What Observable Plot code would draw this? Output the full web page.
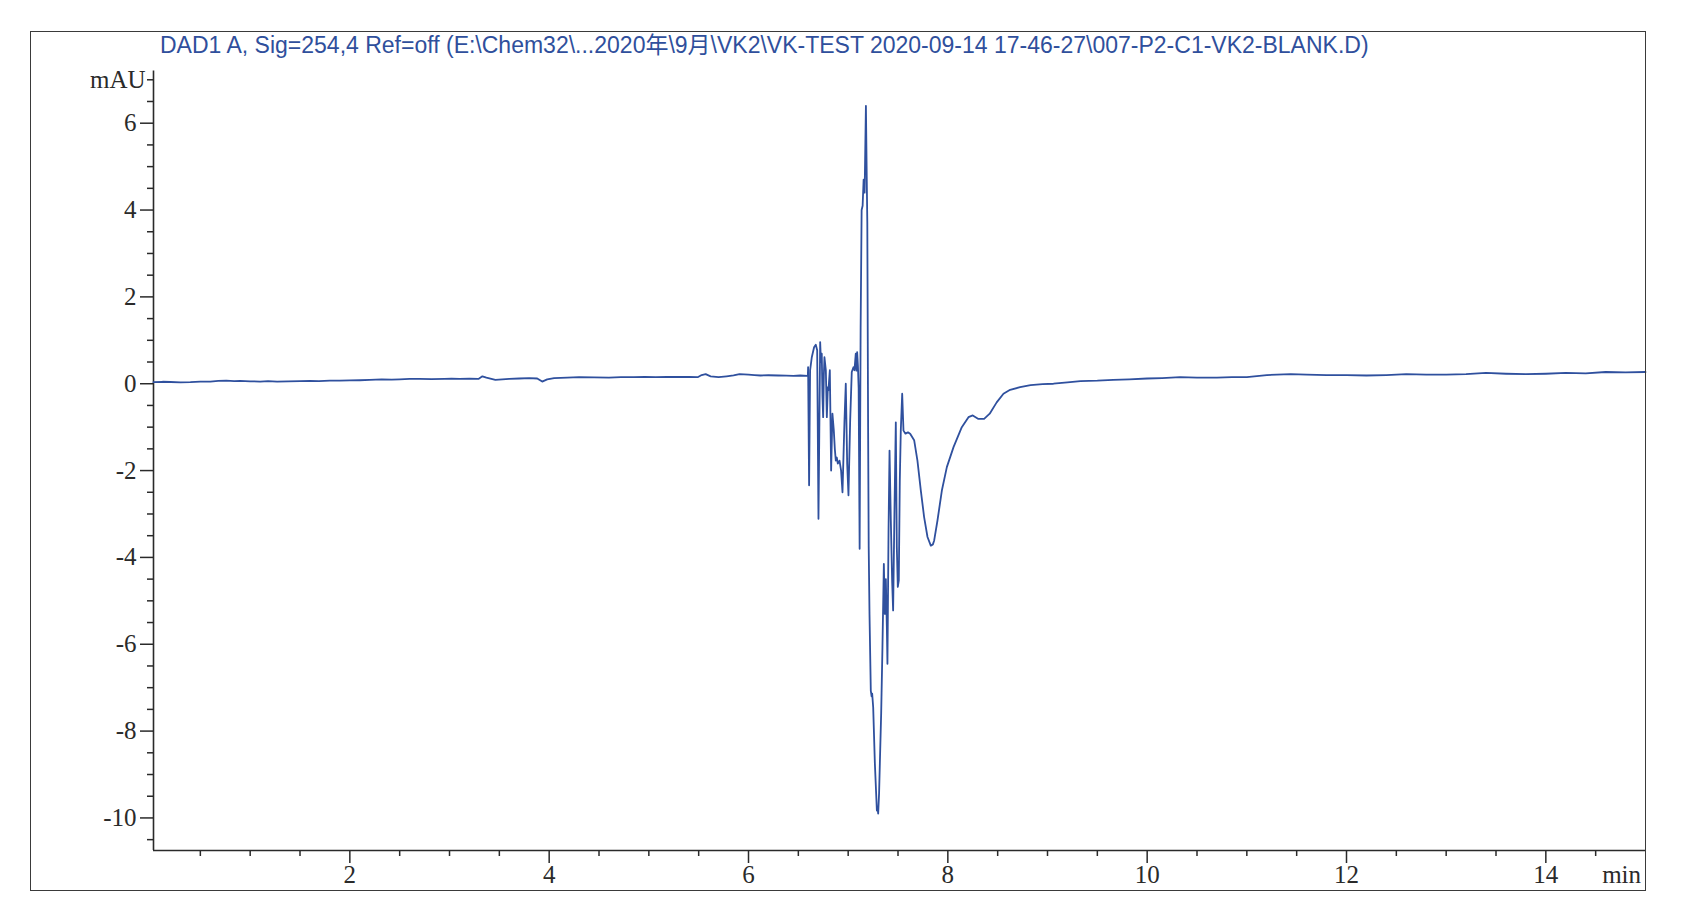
<!DOCTYPE html>
<html>
<head>
<meta charset="utf-8">
<script src="https://cdn.jsdelivr.net/npm/d3@7"></script>
<script src="https://cdn.jsdelivr.net/npm/@observablehq/plot@0.6"></script>
<style>
  html, body { margin: 0; padding: 0; background: #fff; }
  #wrap { position: relative; width: 1702px; height: 910px; overflow: hidden; }
  #frame { position: absolute; left: 30px; top: 31px; width: 1616px; height: 860px; box-sizing: border-box; border: 1.6px solid #3a3a3a; pointer-events: none; }
  #title { position: absolute; left: 160px; top: 26px; font-family: "Liberation Sans", Arial, "Noto Sans CJK SC", sans-serif; font-size: 23px; color: #2f4f9c; white-space: nowrap; }
  #chart { position: absolute; left: 0; top: 0; }
</style>
</head>
<body>
<div id="wrap">
  <div id="chart"></div>
  <div id="frame"></div>
  <div id="title"></div>
</div>
<script>
const titleText = "DAD1 A, Sig=254,4 Ref=off (E:\\Chem32\\...2020年\\9月\\VK2\\VK-TEST 2020-09-14 17-46-27\\007-P2-C1-VK2-BLANK.D)";

// retention time (min)
const time = [
  0.03, 0.12, 0.2, 0.3, 0.4, 0.5, 0.6, 0.68, 0.76, 0.84, 0.9, 1.0, 1.1, 1.18, 1.27, 1.38, 1.5, 1.6, 1.69, 1.8,
  1.9, 2.0, 2.1, 2.2, 2.32, 2.42, 2.5, 2.6, 2.7, 2.82, 2.95, 3.02, 3.1, 3.2, 3.29, 3.33, 3.37, 3.46, 3.53, 3.6,
  3.7, 3.8, 3.88, 3.93, 3.98, 4.05, 4.18, 4.3, 4.45, 4.6, 4.72, 4.85, 4.96, 5.07, 5.18, 5.3, 5.4, 5.49, 5.53, 5.57,
  5.62, 5.7, 5.78, 5.85, 5.91, 6.0, 6.06, 6.12, 6.2, 6.3, 6.38, 6.45, 6.52, 6.59,
  6.595, 6.598, 6.608, 6.618, 6.635, 6.658, 6.675, 6.689, 6.702, 6.719, 6.727, 6.735, 6.742, 6.749, 6.756, 6.762, 6.776, 6.786, 6.796,
  6.802, 6.816, 6.829, 6.842, 6.856, 6.866, 6.876, 6.886, 6.896, 6.913, 6.929, 6.943, 6.963, 6.976, 6.99, 7.003, 7.02, 7.036, 7.053, 7.063, 7.076, 7.083, 7.09,
  7.098, 7.105, 7.115, 7.125, 7.135, 7.145, 7.155, 7.165, 7.178, 7.186, 7.192, 7.2, 7.206, 7.214, 7.227, 7.235, 7.241, 7.251, 7.268, 7.288,
  7.295, 7.301, 7.31, 7.331, 7.344, 7.358, 7.368, 7.378, 7.388, 7.394, 7.405, 7.415, 7.428, 7.441, 7.451, 7.464, 7.478, 7.488, 7.498, 7.508,
  7.518, 7.528, 7.542, 7.555, 7.575, 7.6, 7.622, 7.662, 7.695, 7.729, 7.762, 7.796, 7.829, 7.85, 7.863, 7.896, 7.94, 7.99, 8.057, 8.14,
  8.207, 8.25, 8.307, 8.364, 8.42, 8.49, 8.558, 8.625, 8.725, 8.83, 8.95, 9.06, 9.2, 9.33, 9.5, 9.66, 9.82, 10.0, 10.15, 10.33,
  10.5, 10.7, 10.85, 11.0, 11.2, 11.44, 11.6, 11.8, 12.0, 12.2, 12.4, 12.6, 12.8, 13.0, 13.2, 13.4, 13.6, 13.8, 14.0, 14.2,
  14.4, 14.6, 14.8, 15.0
];
// signal (mAU)
const signal = [
  0.035, 0.045, 0.04, 0.03, 0.035, 0.05, 0.05, 0.065, 0.07, 0.06, 0.065, 0.055, 0.05, 0.06, 0.05, 0.055, 0.06, 0.065, 0.06, 0.07,
  0.07, 0.075, 0.08, 0.09, 0.1, 0.095, 0.1, 0.11, 0.11, 0.105, 0.11, 0.115, 0.11, 0.115, 0.11, 0.17, 0.14, 0.09, 0.1, 0.11,
  0.12, 0.13, 0.12, 0.05, 0.1, 0.13, 0.14, 0.15, 0.145, 0.14, 0.15, 0.15, 0.16, 0.15, 0.155, 0.16, 0.155, 0.15, 0.2, 0.22,
  0.17, 0.15, 0.17, 0.19, 0.22, 0.21, 0.2, 0.19, 0.195, 0.19, 0.185, 0.18, 0.19, 0.18,
  0.18, 0.38, -2.34, 0.31, 0.61, 0.84, 0.9, 0.77, -3.11, 0.96, 0.5, 0.69, -0.3, -0.77, 0.2, 0.61, 0.31, -0.77, -0.08,
  -0.15, 0.31, -2.0, -0.69, -1.08, -1.5, -1.77, -1.7, -1.84, -1.77, -2.0, -2.5, -0.85, 0.0, -1.84, -2.57, -0.85, 0.27, 0.38, 0.31, 0.69, 0.3, 0.73,
  0.4, -0.1, -3.8, 1.3, 4.0, 4.1, 4.7, 4.4, 6.4, 4.8, 3.7, -1.0, -3.76, -5.3, -7.07, -7.2, -7.14, -7.45, -8.75, -9.83,
  -9.75, -9.9, -9.44, -7.6, -6.07, -4.15, -5.3, -4.5, -5.6, -6.45, -3.38, -1.54, -3.15, -4.53, -5.22, -3.0, -0.89, -3.76, -4.68, -4.53,
  -2.23, -1.08, -0.23, -1.08, -1.15, -1.12, -1.15, -1.3, -1.77, -2.46, -3.07, -3.53, -3.73, -3.7, -3.61, -3.15, -2.46, -1.92, -1.46, -1.0,
  -0.77, -0.73, -0.81, -0.81, -0.69, -0.43, -0.23, -0.14, -0.08, -0.03, -0.01, 0.0, 0.03, 0.06, 0.07, 0.09, 0.1, 0.12, 0.13, 0.15,
  0.14, 0.14, 0.15, 0.15, 0.2, 0.22, 0.21, 0.2, 0.2, 0.19, 0.2, 0.22, 0.21, 0.21, 0.22, 0.25, 0.23, 0.22, 0.23, 0.25,
  0.24, 0.27, 0.26, 0.27
];

const xMajorTicks = [2, 4, 6, 8, 10, 12, 14];
const xMinorTicks = [0.5, 1, 1.5, 2.5, 3, 3.5, 4.5, 5, 5.5, 6.5, 7, 7.5, 8.5, 9, 9.5, 10.5, 11, 11.5, 12.5, 13, 13.5, 14.5];
const yMajorTicks = [6, 4, 2, 0, -2, -4, -6, -8, -10];
const yMajorLabels = ["6", "4", "2", "0", "-2", "-4", "-6", "-8", "-10"];
const yMinorTicks = [7, 6.5, 5.5, 5, 4.5, 3.5, 3, 2.5, 1.5, 1, 0.5, -0.5, -1, -1.5, -2.5, -3, -3.5, -4.5, -5, -5.5, -6.5, -7, -7.5, -8.5, -9, -9.5, -10.5];
const yUnitLabel = "mAU";
const yUnitPos = 7;
const xUnitLabel = "min";
const xUnitPos = 14.76;

const xDomain = [0.03, 15];
const yDomain = [-10.75, 7.2];

const data = time.map((t, i) => ({t, v: signal[i]}));
const lineColor = "#2f509e";
const axisColor = "#2a2a2a";

document.getElementById("title").textContent = titleText;

const plot = Plot.plot({
  width: 1702,
  height: 910,
  marginLeft: 153,
  marginRight: 57,
  marginTop: 70.6,
  marginBottom: 60,
  x: {domain: xDomain},
  y: {domain: yDomain},
  style: {fontFamily: "'Liberation Serif', 'Times New Roman', serif", fontSize: "25px", color: axisColor, background: "transparent"},
  marks: [
    Plot.axisY(yMajorTicks, {tickSize: 13, tickPadding: 4, tickFormat: d => yMajorLabels[yMajorTicks.indexOf(d)], label: null, stroke: axisColor, strokeWidth: 1.5}),
    Plot.axisY(yMinorTicks, {tickSize: 6, tickFormat: () => "", label: null, stroke: axisColor, strokeWidth: 1.5}),
    Plot.text([yUnitLabel], {y: [yUnitPos], frameAnchor: "left", textAnchor: "end", dx: -8, text: d => d, fill: axisColor}),
    Plot.axisX(xMajorTicks, {tickSize: 13, tickPadding: 2, tickFormat: d => String(d), label: null, stroke: axisColor, strokeWidth: 1.5}),
    Plot.axisX(xMinorTicks, {tickSize: 6, tickFormat: () => "", label: null, stroke: axisColor, strokeWidth: 1.5}),
    Plot.text([xUnitLabel], {x: [xUnitPos], frameAnchor: "bottom", lineAnchor: "top", dy: 15, text: d => d, fill: axisColor}),
    Plot.ruleX([xDomain[0]], {stroke: axisColor, strokeWidth: 1.6}),
    Plot.ruleY([yDomain[0]], {stroke: axisColor, strokeWidth: 1.6}),
    Plot.line(data, {x: "t", y: "v", stroke: lineColor, strokeWidth: 1.8})
  ]
});
document.getElementById("chart").appendChild(plot);
</script>
</body>
</html>
